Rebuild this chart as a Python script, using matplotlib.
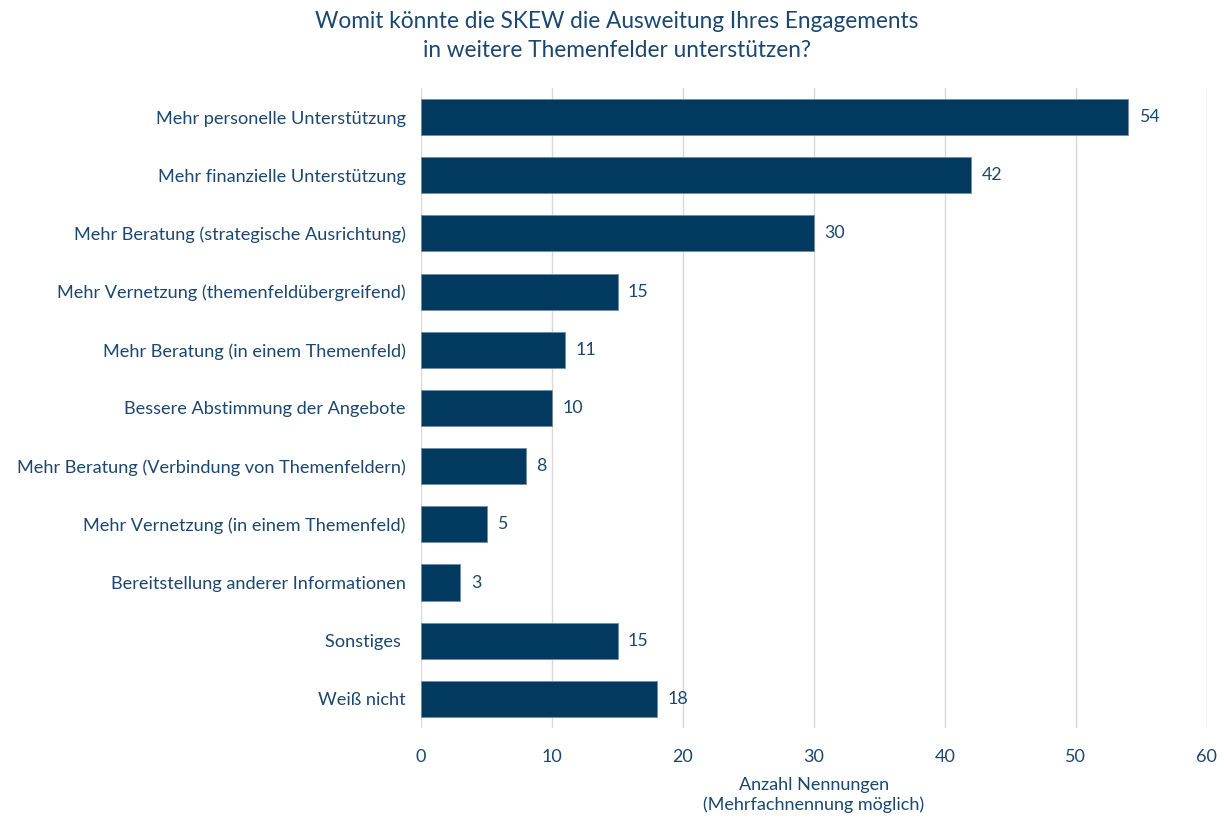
import matplotlib
matplotlib.use("Agg")
import matplotlib.pyplot as plt

categories = [
    "Mehr personelle Unterstützung",
    "Mehr finanzielle Unterstützung",
    "Mehr Beratung (strategische Ausrichtung)",
    "Mehr Vernetzung (themenfeldübergreifend)",
    "Mehr Beratung (in einem Themenfeld)",
    "Bessere Abstimmung der Angebote",
    "Mehr Beratung (Verbindung von Themenfeldern)",
    "Mehr Vernetzung (in einem Themenfeld)",
    "Bereitstellung anderer Informationen",
    "Sonstiges ",
    "Weiß nicht",
]
values = [54, 42, 30, 15, 11, 10, 8, 5, 3, 15, 18]
xticks = [0, 10, 20, 30, 40, 50, 60]

bar_color = "#02395F"
text_color = "#1B4770"

plt.rcParams["font.family"] = ["Lato", "DejaVu Sans"]

fig = plt.figure(figsize=(12.24, 8.21), dpi=100)
ax = fig.add_axes([0.344, 0.1133, 0.642, 0.7795])

ypos = list(range(len(categories)))
ax.barh(ypos, values, height=0.62, color=bar_color, edgecolor="#6F8DA8",
        linewidth=0.6, zorder=3)
for y, v in zip(ypos, values):
    ax.text(v + 0.8, y, str(v), va="center", ha="left", fontsize=12.8,
            color=text_color)

ax.set_ylim(len(categories) - 0.5, -0.5)
ax.set_xlim(0, 60)
ax.set_yticks(ypos)
ax.set_yticklabels(categories, fontsize=13.1, color=text_color)
ax.set_xticks(xticks)
ax.set_xticklabels([str(t) for t in xticks], fontsize=13, color=text_color)
ax.tick_params(axis="both", length=0)
ax.tick_params(axis="y", pad=11)
ax.tick_params(axis="x", pad=15)
ax.grid(axis="x", color="#D9D9D9", linewidth=1, zorder=0)
for s in ax.spines.values():
    s.set_visible(False)

ax.set_xlabel("Anzahl Nennungen\n(Mehrfachnennung möglich)", fontsize=13,
              color=text_color, labelpad=9, linespacing=1.25)
fig.suptitle("Womit könnte die SKEW die Ausweitung Ihres Engagements\n"
             "in weitere Themenfelder unterstützen?", x=0.504, y=0.987,
             fontsize=16.3, color=text_color, linespacing=1.5)

fig.savefig("out.png", dpi=100)
